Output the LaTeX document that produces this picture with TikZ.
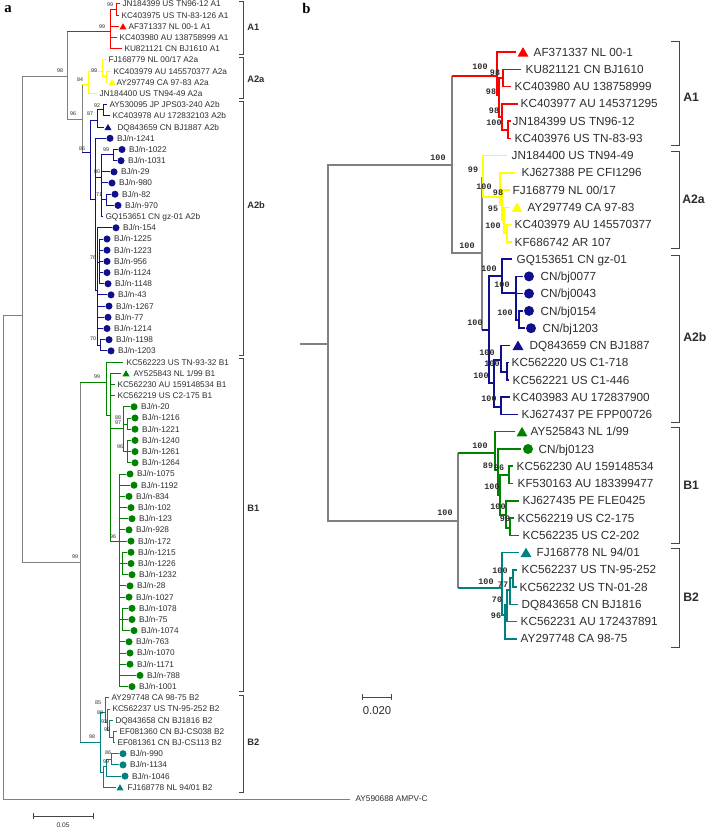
\documentclass[tikz,border=0pt]{standalone}
\usepackage{fontspec}
\setmainfont{Liberation Sans}
\setmonofont{Liberation Mono}
\newfontfamily\panelfont{Liberation Serif}
\usetikzlibrary{shapes.geometric}
\definecolor{cA1}{RGB}{255,0,0}
\definecolor{cA2a}{RGB}{255,255,0}
\definecolor{cA2b}{RGB}{16,16,140}
\definecolor{cB1}{RGB}{0,130,0}
\definecolor{cB2}{RGB}{0,128,128}
\definecolor{cGr}{RGB}{128,128,128}
\definecolor{txt}{RGB}{45,45,45}
\definecolor{brkc}{RGB}{70,70,70}
\newcommand\IN[3]{\coordinate (#1) at (#3); \draw (#2) |- (#1);}
\newcommand\SPL[5]{\coordinate (#2) at (#5); \draw[#3] (#1) -- (#1 |- #2); \draw[#4] (#1 |- #2) -- (#2);}
\newcommand\LF[7]{\coordinate (t#1) at (#3,#4); \draw (#2) |- (t#1); \node[#7] (l#1) at (#5,#4) {#6};}
\newcommand\LFM[7]{\coordinate (t#1) at (#3,#4); \draw (#2) |- (t#1); \node[#6] (m#1) at (#3+4,#4) {}; \node[#7] (l#1) at (#3+10.5,#4) {#5};}
\newcommand\MK[4]{\node[#1] (m#2) at (#3,#4) {};}
\newcommand\BS[4]{\node[#1] (b#2) at (#3) {#4};}
\newcommand\BRK[4]{\draw[brk] (#1-#4,#2) -- (#1,#2) -- (#1,#3) -- (#1-#4,#3);}
\tikzset{
 lf/.style={font=\fontsize{6.2}{7}\selectfont, text=txt, anchor=west, inner sep=0pt, text height=4.4pt, text depth=0pt},
 rf/.style={font=\fontsize{8.8}{10}\selectfont, text=txt, anchor=west, inner sep=0pt, text height=6.2pt, text depth=0pt},
 bsl/.style={font=\fontsize{4}{4}\selectfont, text=txt, inner sep=0pt},
 bsr/.style={font=\ttfamily\bfseries\fontsize{6.3}{7}\selectfont, text=txt, inner sep=0pt},
 cl/.style={circle, fill=#1, draw=none, inner sep=0pt, minimum size=5.3pt},
 tl/.style={regular polygon, regular polygon sides=3, fill=#1, draw=none, inner sep=0pt, minimum size=6.2pt},
 cr/.style={circle, fill=#1, draw=none, inner sep=0pt, minimum size=7.5pt},
 tr/.style={regular polygon, regular polygon sides=3, fill=#1, draw=none, inner sep=0pt, minimum size=9.5pt},
 brk/.style={draw=brkc, line width=0.75pt},
 cll/.style={font=\fontsize{7}{8}\selectfont\bfseries, text=txt, anchor=west, inner sep=0pt},
 clr/.style={font=\fontsize{9.2}{10}\selectfont\bfseries, text=txt, anchor=west, inner sep=0pt},
 pl/.style={font=\panelfont\bfseries\fontsize{11}{12}\selectfont, text=black, inner sep=0pt},
 Lw/.style={line width=0.75pt},
 Rw/.style={line width=1.1pt},
}
\begin{document}
\begin{tikzpicture}[x=0.75pt,y=-0.75pt]
\useasboundingbox (0,0) rectangle (708,827);

\node[pl, anchor=base west] (pa) at (4,13) {a};
\node[pl, anchor=base west] (pb) at (302,14) {b};

% ================= LEFT TREE (a) =================
\begin{scope}[Lw, cGr]
 \coordinate (L0) at (3,315);
 \coordinate (Lin) at (22,315);
 \draw (L0) -- (Lin);
 \IN{LA}{Lin}{67,77}
 \IN{LB}{Lin}{80,562}
 \IN{LA2}{LA}{82,120}
 \coordinate (tout) at (350,799);
 \draw (L0) |- (tout);
 \node[lf] (lout) at (355,799) {AY590688 AMPV-C};
\end{scope}
\SPL{LA}{LA1}{Lw,cGr}{Lw,cA1}{110,32}
\SPL{LA2}{LA2a}{Lw,cGr}{Lw,cA2a}{88,85}
\SPL{LA2}{LA2b}{Lw,cGr}{Lw,cA2b}{90,153}
\SPL{LB}{LB1}{Lw,cGr}{Lw,cB1}{106,382}
\SPL{LB}{LB2}{Lw,cGr}{Lw,cB2}{100,742}

% A1
\begin{scope}[Lw, cA1]
 \IN{LA1a}{LA1}{116,10}
 \LF{L1}{LA1a}{120}{4.0}{122}{JN184399 US TN96-12 A1}{lf}
 \LF{L2}{LA1a}{119}{15.2}{121}{KC403975 US TN-83-126 A1}{lf}
 \LF{L3}{LA1}{119}{26.4}{128}{AF371337 NL 00-1 A1}{lf}
 \LF{L4}{LA1}{117}{37.6}{119}{KC403980 AU 138758999 A1}{lf}
 \LF{L5}{LA1}{122}{48.8}{124}{KU821121 CN BJ1610 A1}{lf}
\end{scope}
\MK{tl=cA1}{L3}{123}{27.4}

% A2a
\begin{scope}[Lw, cA2a]
 \IN{LA2a1}{LA2a}{102,72}
 \IN{LA2a2}{LA2a1}{106,77}
 \LF{L6}{LA2a1}{106}{60.0}{108}{FJ168779 NL 00/17 A2a}{lf}
 \LF{L7}{LA2a2}{111}{71.1}{113}{KC403979 AU 145570377 A2a}{lf}
 \LF{L8}{LA2a2}{108}{82.3}{116}{AY297749 CA 97-83 A2a}{lf}
 \LF{L9}{LA2a}{97}{93.5}{99}{JN184400 US TN94-49 A2a}{lf}
\end{scope}
\MK{tl=cA2a}{L8}{112}{83.3}

% A2b
\begin{scope}[Lw, cA2b]
 \IN{LNa}{LA2b}{97,121}
 \IN{LNb}{LNa}{103,110}
 \LF{L10}{LNb}{107}{104.7}{109}{AY530095 JP JPS03-240 A2b}{lf}
 \LF{L11}{LNb}{110}{115.9}{112}{KC403978 AU 172832103 A2b}{lf}
 \LF{L12}{LNa}{104}{127.1}{117}{DQ843659 CN BJ1887 A2b}{lf}
 \IN{LNc}{LA2b}{95,200}
 \LFM{L13}{LNc}{106}{138.3}{BJ/n-1241}{cl=cA2b}{lf}
 \IN{LN80}{LNc}{101,178}
 \IN{LN99}{LN80}{113,155}
 \LFM{L14}{LN99}{118}{149.5}{BJ/n-1022}{cl=cA2b}{lf}
 \LFM{L15}{LN99}{117}{160.7}{BJ/n-1031}{cl=cA2b}{lf}
 \LFM{L16}{LN80}{110}{171.9}{BJ/n-29}{cl=cA2b}{lf}
 \LFM{L17}{LN80}{108}{183.0}{BJ/n-980}{cl=cA2b}{lf}
 \IN{LN71}{LN80}{106,200}
 \LFM{L18}{LN71}{111}{194.2}{BJ/n-82}{cl=cA2b}{lf}
 \LFM{L19}{LN71}{114}{205.4}{BJ/n-970}{cl=cA2b}{lf}
 \LF{L20}{LN80}{103}{216.6}{105}{GQ153651 CN gz-01 A2b}{lf}
 \IN{LNX}{LNc}{97,290}
 \LFM{L21}{LNX}{112}{227.8}{BJ/n-154}{cl=cA2b}{lf}
 \IN{LN76}{LNX}{99,262}
 \LFM{L22}{LN76}{103}{239.0}{BJ/n-1225}{cl=cA2b}{lf}
 \LFM{L23}{LN76}{103}{250.2}{BJ/n-1223}{cl=cA2b}{lf}
 \LFM{L24}{LN76}{103}{261.4}{BJ/n-956}{cl=cA2b}{lf}
 \LFM{L25}{LN76}{103}{272.6}{BJ/n-1124}{cl=cA2b}{lf}
 \LFM{L26}{LN76}{104}{283.8}{BJ/n-1148}{cl=cA2b}{lf}
 \LFM{L27}{LNX}{107}{294.9}{BJ/n-43}{cl=cA2b}{lf}
 \LFM{L28}{LNX}{105}{306.1}{BJ/n-1267}{cl=cA2b}{lf}
 \LFM{L29}{LNX}{104}{317.3}{BJ/n-77}{cl=cA2b}{lf}
 \LFM{L30}{LNX}{103}{328.5}{BJ/n-1214}{cl=cA2b}{lf}
 \IN{LN70}{LNX}{100,345}
 \LFM{L31}{LN70}{105}{339.7}{BJ/n-1198}{cl=cA2b}{lf}
 \LFM{L32}{LN70}{107}{350.9}{BJ/n-1203}{cl=cA2b}{lf}
\end{scope}
\MK{tl=cA2b}{L12}{108}{128.1}

% B1
\begin{scope}[Lw, cB1]
 \LF{L33}{LB1}{123}{362.1}{126}{KC562223 US TN-93-32 B1}{lf}
 \IN{LB1b}{LB1}{110,415}
 \LF{L34}{LB1b}{121}{373.3}{133}{AY525843 NL 1/99 B1}{lf}
 \LF{L35}{LB1b}{115}{384.5}{117}{KC562230 AU 159148534 B1}{lf}
 \LF{L36}{LB1b}{115}{395.7}{117}{KC562219 US C2-175 B1}{lf}
 \IN{LB97}{LB1b}{123,428}
 \LFM{L37}{LB97}{130}{406.8}{BJ/n-20}{cl=cB1}{lf}
 \IN{LB88}{LB97}{127,424}
 \LFM{L38}{LB88}{131}{418.0}{BJ/n-1216}{cl=cB1}{lf}
 \LFM{L39}{LB88}{131}{429.2}{BJ/n-1221}{cl=cB1}{lf}
 \IN{LB96b}{LB97}{127,451.6}
 \LFM{L40}{LB96b}{131}{440.4}{BJ/n-1240}{cl=cB1}{lf}
 \LFM{L41}{LB96b}{131}{451.6}{BJ/n-1261}{cl=cB1}{lf}
 \LFM{L42}{LB96b}{131}{462.8}{BJ/n-1264}{cl=cB1}{lf}
 \IN{LB96}{LB1b}{119,541}
 \LFM{L43}{LB96}{126}{474.0}{BJ/n-1075}{cl=cB1}{lf}
 \LFM{L44}{LB96}{130}{485.2}{BJ/n-1192}{cl=cB1}{lf}
 \LFM{L45}{LB96}{125}{496.4}{BJ/n-834}{cl=cB1}{lf}
 \LFM{L46}{LB96}{127}{507.6}{BJ/n-102}{cl=cB1}{lf}
 \LFM{L47}{LB96}{128}{518.7}{BJ/n-123}{cl=cB1}{lf}
 \LFM{L48}{LB96}{125}{529.9}{BJ/n-928}{cl=cB1}{lf}
 \LFM{L49}{LB96}{127}{541.1}{BJ/n-172}{cl=cB1}{lf}
 \IN{LBs1}{LB96}{122,563.5}
 \LFM{L50}{LBs1}{127}{552.3}{BJ/n-1215}{cl=cB1}{lf}
 \LFM{L51}{LBs1}{127}{563.5}{BJ/n-1226}{cl=cB1}{lf}
 \LFM{L52}{LBs1}{128}{574.7}{BJ/n-1232}{cl=cB1}{lf}
 \LFM{L53}{LB96}{126}{585.9}{BJ/n-28}{cl=cB1}{lf}
 \LFM{L54}{LB96}{125}{597.1}{BJ/n-1027}{cl=cB1}{lf}
 \IN{LBs2}{LB96}{122,619.5}
 \LFM{L55}{LBs2}{128}{608.3}{BJ/n-1078}{cl=cB1}{lf}
 \LFM{L56}{LBs2}{128}{619.5}{BJ/n-75}{cl=cB1}{lf}
 \LFM{L57}{LBs2}{130}{630.6}{BJ/n-1074}{cl=cB1}{lf}
 \LFM{L58}{LB96}{125}{641.8}{BJ/n-763}{cl=cB1}{lf}
 \LFM{L59}{LB96}{126}{653.0}{BJ/n-1070}{cl=cB1}{lf}
 \LFM{L60}{LB96}{126}{664.2}{BJ/n-1171}{cl=cB1}{lf}
 \LFM{L61}{LB96}{136}{675.4}{BJ/n-788}{cl=cB1}{lf}
 \LFM{L62}{LB96}{128}{686.6}{BJ/n-1001}{cl=cB1}{lf}
\end{scope}
\MK{tl=cB1}{L34}{126}{374.3}

% B2
\begin{scope}[Lw, cB2]
 \IN{LU}{LB2}{105,712}
 \LF{L63}{LU}{109}{697.8}{111}{AY297748 CA 98-75 B2}{lf}
 \IN{LV}{LU}{107,722}
 \LF{L64}{LV}{110}{709.0}{112}{KC562237 US TN-95-252 B2}{lf}
 \IN{LW}{LV}{109,730}
 \LF{L65}{LW}{113}{720.2}{115}{DQ843658 CN BJ1816 B2}{lf}
 \IN{LXn}{LW}{113,737}
 \LF{L66}{LXn}{117}{731.4}{119}{EF081360 CN BJ-CS038 B2}{lf}
 \LF{L67}{LXn}{115}{742.5}{117}{EF081361 CN BJ-CS113 B2}{lf}
 \IN{LL}{LB2}{103,772}
 \IN{LY}{LL}{106,766}
 \IN{LZ}{LY}{111,759}
 \LFM{L68}{LZ}{119}{753.7}{BJ/n-990}{cl=cB2}{lf}
 \LFM{L69}{LZ}{119}{764.9}{BJ/n-1134}{cl=cB2}{lf}
 \LFM{L70}{LY}{121}{776.1}{BJ/n-1046}{cl=cB2}{lf}
 \LF{L71}{LL}{116}{787.3}{127}{FJ168778 NL 94/01 B2}{lf}
\end{scope}
\MK{tl=cB2}{L71}{120}{788.3}

% bootstrap values (a)
\BS{bsl}{a1}{110,5}{99}
\BS{bsl}{a2}{102,27}{99}
\BS{bsl}{a3}{60,71}{98}
\BS{bsl}{a4}{94,71}{99}
\BS{bsl}{a5}{80,80}{84}
\BS{bsl}{a6}{97,106}{92}
\BS{bsl}{a7}{90,114}{87}
\BS{bsl}{a8}{73,114}{96}
\BS{bsl}{a9}{82,149}{86}
\BS{bsl}{a10}{106,150}{99}
\BS{bsl}{a11}{97,172}{80}
\BS{bsl}{a12}{99,195}{71}
\BS{bsl}{a13}{93,258}{76}
\BS{bsl}{a14}{93,339}{70}
\BS{bsl}{a15}{97,377}{99}
\BS{bsl}{a16}{118,418}{88}
\BS{bsl}{a17}{118,423}{97}
\BS{bsl}{a18}{120,447}{96}
\BS{bsl}{a19}{113,537}{96}
\BS{bsl}{a20}{75,557}{99}
\BS{bsl}{a21}{98,703}{85}
\BS{bsl}{a22}{100,713}{88}
\BS{bsl}{a23}{104,722}{93}
\BS{bsl}{a24}{107,730}{98}
\BS{bsl}{a25}{92,737}{98}
\BS{bsl}{a26}{108,753}{86}
\BS{bsl}{a27}{106,762}{99}

% clade brackets (a)
\BRK{243}{2}{55}{4}
\BRK{243}{58}{99}{4}
\BRK{243}{102}{355}{4}
\BRK{243}{358}{691}{4}
\BRK{243}{695}{792}{4}
\node[cll] (kA1) at (247,27) {A1};
\node[cll] (kA2a) at (247,79) {A2a};
\node[cll] (kA2b) at (247,205) {A2b};
\node[cll] (kB1) at (247,508) {B1};
\node[cll] (kB2) at (247,742) {B2};

% scale bar (a)
\coordinate (sa1) at (33,816);
\coordinate (sa2) at (93,816);
\draw[brk] (sa1) -- (sa2);
\draw[brk] (33,813) -- (33,819);
\draw[brk] (93,813) -- (93,819);
\node[font=\fontsize{5}{5}\selectfont, text=txt, inner sep=0pt] (sal) at (63,825) {0.05};

% ================= RIGHT TREE (b) =================
\begin{scope}[Rw, cGr]
 \coordinate (R0) at (300,344);
 \coordinate (RR) at (328,344);
 \draw (R0) -- (RR);
 \IN{RA}{RR}{452,165}
 \IN{RB}{RR}{458,521}
 \IN{RA2}{RA}{482,253}
\end{scope}
\SPL{RA}{RA1}{Rw,cGr}{Rw,cA1}{497,76}
\SPL{RA2}{RA2a}{Rw,cGr}{Rw,cA2a}{483,177}
\SPL{RA2}{RA2b}{Rw,cGr}{Rw,cA2b}{489,330}
\SPL{RB}{RB1}{Rw,cGr}{Rw,cB1}{495,453}
\SPL{RB}{RB2}{Rw,cGr}{Rw,cB2}{502,588}

% A1
\begin{scope}[Rw, cA1]
 \LF{R1}{RA1}{516}{52.0}{533}{AF371337 NL 00-1}{rf}
 \IN{RN1}{RA1}{499,95}
 \IN{RN2}{RN1}{503,78}
 \LF{R2}{RN2}{521}{69.3}{525}{KU821121 CN BJ1610}{rf}
 \LF{R3}{RN2}{511}{86.5}{514}{KC403980 AU 138758999}{rf}
 \IN{RN3}{RN1}{502,117}
 \LF{R4}{RN3}{518}{103.8}{520}{KC403977 AU 145371295}{rf}
 \IN{RN4}{RN3}{508,130}
 \LF{R5}{RN4}{511}{121.0}{512}{JN184399 US TN96-12}{rf}
 \LF{R6}{RN4}{511}{138.3}{514}{KC403976 US TN-83-93}{rf}
\end{scope}
\MK{tr=cA1}{R1}{523}{53.5}

% A2a
\begin{scope}[Rw, cA2a]
 \LF{R7}{RA2a}{507}{155.6}{511}{JN184400 US TN94-49}{rf}
 \IN{RN5}{RA2a}{500,197}
 \LF{R8}{RN5}{515}{172.8}{521}{KJ627388 PE CFI1296}{rf}
 \IN{RN5b}{RN5}{502,205}
 \LF{R9}{RN5b}{510}{190.1}{512}{FJ168779 NL 00/17}{rf}
 \IN{RN5c}{RN5b}{504,220}
 \LF{R10}{RN5c}{510}{207.3}{527}{AY297749 CA 97-83}{rf}
 \IN{RN6}{RN5c}{507,233}
 \LF{R11}{RN6}{512}{224.6}{514}{KC403979 AU 145570377}{rf}
 \LF{R12}{RN6}{512}{241.9}{514}{KF686742 AR 107}{rf}
\end{scope}
\MK{tr=cA2a}{R10}{517}{208.8}

% A2b
\begin{scope}[Rw, cA2b]
 \IN{RU2}{RA2b}{502,276}
 \LF{R13}{RU2}{512}{259.1}{516}{GQ153651 CN gz-01}{rf}
 \IN{RN7}{RU2}{516,293}
 \LF{R14}{RN7}{523}{276.4}{540}{CN/bj0077}{rf}
 \LF{R15}{RN7}{523}{293.6}{540}{CN/bj0043}{rf}
 \IN{RN8}{RN7}{519,320}
 \LF{R16}{RN8}{523}{310.9}{540}{CN/bj0154}{rf}
 \LF{R17}{RN8}{525}{328.2}{542}{CN/bj1203}{rf}
 \IN{RL2}{RA2b}{494,383}
 \IN{RN9}{RL2}{501,360}
 \LF{R18}{RN9}{510}{345.4}{529}{DQ843659 CN BJ1887}{rf}
 \IN{RN11}{RN9}{507,372}
 \LF{R19}{RN11}{509}{362.7}{511}{KC562220 US C1-718}{rf}
 \LF{R20}{RN11}{509}{379.9}{512}{KC562221 US C1-446}{rf}
 \IN{RN10}{RL2}{501,407}
 \LF{R21}{RN10}{510}{397.2}{512}{KC403983 AU 172837900}{rf}
 \LF{R22}{RN10}{518}{414.5}{521}{KJ627437 PE FPP00726}{rf}
\end{scope}
\MK{cr=cA2b}{R14}{529}{276.4}
\MK{cr=cA2b}{R15}{529}{293.6}
\MK{cr=cA2b}{R16}{529}{310.9}
\MK{cr=cA2b}{R17}{531}{328.2}
\MK{tr=cA2b}{R18}{518}{346.9}

% B1
\begin{scope}[Rw, cB1]
 \LF{R23}{RB1}{515}{431.7}{530}{AY525843 NL 1/99}{rf}
 \IN{RN12}{RB1}{498,470}
 \LF{R24}{RN12}{521}{449.0}{538}{CN/bj0123}{rf}
 \IN{RN13}{RN12}{500,495}
 \IN{RN14}{RN13}{509,475}
 \LF{R25}{RN14}{513}{466.2}{516}{KC562230 AU 159148534}{rf}
 \LF{R26}{RN14}{513}{483.5}{517}{KF530163 AU 183399477}{rf}
 \IN{RN15}{RN13}{506,515}
 \LF{R27}{RN15}{519}{500.8}{522}{KJ627435 PE FLE0425}{rf}
 \IN{RN16}{RN15}{510,528}
 \LF{R28}{RN16}{514}{518.0}{517}{KC562219 US C2-175}{rf}
 \LF{R29}{RN16}{519}{535.3}{522}{KC562235 US C2-202}{rf}
\end{scope}
\MK{tr=cB1}{R23}{522}{433.2}
\MK{cr=cB1}{R24}{528}{449.0}

% B2
\begin{scope}[Rw, cB2]
 \LF{R30}{RB2}{519}{552.5}{536}{FJ168778 NL 94/01}{rf}
 \IN{RNa}{RB2}{505,615}
 \IN{RNd}{RNa}{507,605}
 \IN{RNb}{RNd}{510,590}
 \IN{RNc}{RNb}{513,578}
 \LF{R31}{RNc}{517}{569.8}{521}{KC562237 US TN-95-252}{rf}
 \LF{R32}{RNc}{517}{587.1}{519}{KC562232 US TN-01-28}{rf}
 \LF{R33}{RNb}{518}{604.3}{521}{DQ843658 CN BJ1816}{rf}
 \LF{R34}{RNd}{517}{621.6}{520}{KC562231 AU 172437891}{rf}
 \LF{R35}{RNa}{517}{638.8}{520}{AY297748 CA 98-75}{rf}
\end{scope}
\MK{tr=cB2}{R30}{526}{554}

% bootstrap values (b)
\BS{bsr}{b1}{480,67}{100}
\BS{bsr}{b2}{495,73}{98}
\BS{bsr}{b3}{491,92}{98}
\BS{bsr}{b4}{494,111}{98}
\BS{bsr}{b5}{494,123}{100}
\BS{bsr}{b6}{438,158}{100}
\BS{bsr}{b7}{473,170}{99}
\BS{bsr}{b8}{484,187}{100}
\BS{bsr}{b9}{498,193}{98}
\BS{bsr}{b10}{493,209}{95}
\BS{bsr}{b11}{493,226}{100}
\BS{bsr}{b12}{467,246}{100}
\BS{bsr}{b13}{489,269}{100}
\BS{bsr}{b14}{502,285}{100}
\BS{bsr}{b15}{505,313}{100}
\BS{bsr}{b16}{475,323}{100}
\BS{bsr}{b17}{487,353}{100}
\BS{bsr}{b18}{492,364}{100}
\BS{bsr}{b19}{481,376}{100}
\BS{bsr}{b20}{489,399}{100}
\BS{bsr}{b21}{480,446}{100}
\BS{bsr}{b22}{488,466}{89}
\BS{bsr}{b23}{499,468}{96}
\BS{bsr}{b24}{492,487}{100}
\BS{bsr}{b25}{498,507}{100}
\BS{bsr}{b26}{505,519}{99}
\BS{bsr}{b27}{445,513}{100}
\BS{bsr}{b28}{500,571}{100}
\BS{bsr}{b29}{503,585}{77}
\BS{bsr}{b30}{486,582}{100}
\BS{bsr}{b31}{497,600}{70}
\BS{bsr}{b32}{496,616}{96}

% clade brackets (b)
\BRK{679}{42}{146}{8}
\BRK{679}{152}{248}{8}
\BRK{679}{255}{422}{8}
\BRK{679}{427}{543}{8}
\BRK{679}{548}{647}{8}
\node[clr] (qA1) at (683,97) {A1};
\node[clr] (qA2a) at (682,199) {A2a};
\node[clr] (qA2b) at (683,337) {A2b};
\node[clr] (qB1) at (683,485) {B1};
\node[clr] (qB2) at (683,597) {B2};

% scale bar (b)
\coordinate (sb1) at (362,697);
\coordinate (sb2) at (391,697);
\draw[brk] (sb1) -- (sb2);
\draw[brk] (362,694) -- (362,700);
\draw[brk] (391,694) -- (391,700);
\node[font=\fontsize{8.5}{9}\selectfont, text=txt, inner sep=0pt] (sbl) at (377,711) {0.020};
\end{tikzpicture}
\end{document}
